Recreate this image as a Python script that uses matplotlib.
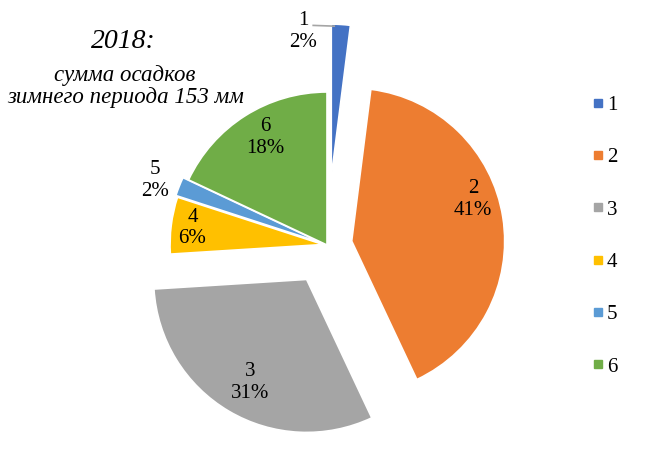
import numpy as np
import matplotlib.pyplot as plt
from matplotlib.lines import Line2D

# Times New Roman -> Liberation Serif
plt.rcParams['font.family'] = ['Liberation Serif', 'DejaVu Serif']

labels = ['1', '2', '3', '4', '5', '6']
values = [2, 41, 31, 6, 2, 18]
colors = ['#4472C4', '#ED7D31', '#A5A5A5', '#FFC000', '#5B9BD5', '#70AD47']

# geometry in pixel units (y up)
R = 153
C = (327, 206)
explode_px = [68, 25, 40, 4, 6, 0]
label_r = [0.97, 0.84, 0.77, 0.86, 1.16, 0.81]
label_shift = [14.5, 10, 2, 0, 1, -2.4]

fig = plt.figure(figsize=(6.54, 4.51), dpi=100)
ax = fig.add_axes([0, 0, 1, 1])

wedges, _ = ax.pie(values, colors=colors, explode=explode_px, radius=R, center=C,
                   startangle=90, counterclock=False,
                   wedgeprops=dict(edgecolor='white', linewidth=1.2))

for i, w in enumerate(wedges):
    ang = np.deg2rad((w.theta1 + w.theta2) / 2 + label_shift[i])
    cx, cy = w.center
    px = cx + R * label_r[i] * np.cos(ang)
    py = cy + R * label_r[i] * np.sin(ang)
    ax.text(px, py, f'{labels[i]}\n{values[i]}%', ha='center', va='center',
            fontsize=15, linespacing=1.2, color='#000000')
    if i == 0:
        # leader line to the small slice
        ex = cx + R * np.cos(np.deg2rad(w.theta2))
        ey = cy + R * np.sin(np.deg2rad(w.theta2))
        ax.plot([px + 10, ex + 3], [py + 6, ey - 2], color='#A5A5A5', lw=1.2)

ax.text(123, 451 - 42, '2018:', ha='center', va='center', fontsize=20, style='italic')
ax.text(125, 451 - 75, 'сумма осадков', ha='center', va='center', fontsize=16.5, style='italic')
ax.text(126, 451 - 98, 'зимнего периода 153 мм', ha='center', va='center', fontsize=16.5, style='italic')

handles = [Line2D([], [], marker='s', linestyle='none', markersize=6,
                  markerfacecolor=c, markeredgecolor=c) for c in colors]
ax.legend(handles, labels, loc='center left', bbox_to_anchor=(581 / 654, (451 - 236) / 451),
          frameon=False, fontsize=15, labelspacing=1.57, handlelength=0.8,
          handletextpad=0.05, borderaxespad=0)

ax.set_xlim(0, 654)
ax.set_ylim(0, 451)
ax.set_aspect('equal')
ax.axis('off')

fig.savefig('out.png', dpi=100)
